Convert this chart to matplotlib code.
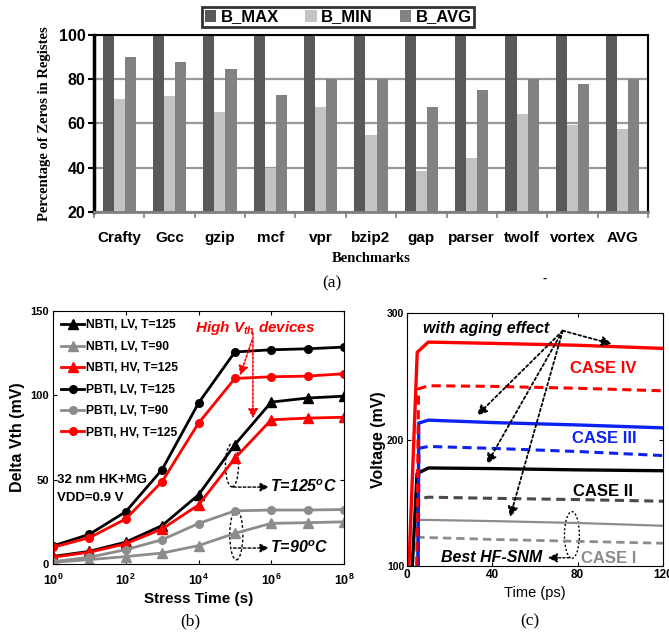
import numpy as np
import matplotlib
matplotlib.use("Agg")
import matplotlib.pyplot as plt
from matplotlib.patches import Ellipse

plt.rcParams['font.family'] = ['Liberation Sans', 'DejaVu Sans']
plt.rcParams['mathtext.fontset'] = 'custom'
plt.rcParams['mathtext.rm'] = 'Liberation Sans'
plt.rcParams['mathtext.bf'] = 'Liberation Sans:bold'
plt.rcParams['mathtext.it'] = 'Liberation Sans:italic:bold'

# ---- data (a) ----
benchmarks = ["Crafty", "Gcc", "gzip", "mcf", "vpr", "bzip2", "gap", "parser", "twolf", "vortex", "AVG"]
b_max = [100, 100, 100, 100, 100, 100, 100, 100, 100, 100, 100]
b_min = [71, 72.5, 65, 40, 67.5, 55, 38.5, 44.5, 64.5, 59.5, 57.5]
b_avg = [90, 88, 84.5, 73, 80, 80, 67.5, 75, 80, 78, 80]

# ---- data (b) ----
stress_time = [1e0, 1e1, 1e2, 1e3, 1e4, 1e5, 1e6, 1e7, 1e8]
nbti_lv_125 = [4.5, 7.5, 13, 22.8, 41, 70.8, 96, 98.4, 99.5]
nbti_lv_90 = [1, 2.6, 4.4, 6.5, 10.9, 18.2, 24.1, 24.5, 25]
nbti_hv_125 = [4, 7, 12, 20.8, 35, 62.7, 85.5, 86.5, 87]
pbti_lv_125 = [10.7, 17.6, 31, 56, 95.4, 125.7, 127, 127.6, 128.6]
pbti_lv_90 = [1.4, 4, 8.5, 14.4, 24, 31.5, 32, 32, 32.3]
pbti_hv_125 = [9.9, 15.6, 26.7, 48.9, 83.5, 110, 111, 111.4, 112.8]

# ---- data (c) ----
t_red = [0.9, 4.8, 10, 40, 80, 120]
v_red = [100, 269, 277, 276, 274.5, 272]
t_red_d = [4.6, 5.4, 10, 40, 80, 120]
v_red_d = [100, 240, 242.5, 242, 240.5, 238.5]
t_blue = [5.2, 5.5, 10, 40, 80, 120]
v_blue = [100, 213, 215.3, 213.4, 211.5, 209.2]
t_blue_d = [5.3, 5.6, 10, 40, 80, 120]
v_blue_d = [100, 193, 194.5, 193, 190.5, 187.3]
t_black = [2.5, 4.7, 10, 40, 80, 120]
v_black = [100, 173, 177.5, 177, 176, 175.3]
t_dgray_d = [4.8, 5.2, 10, 40, 80, 120]
v_dgray_d = [100, 153, 154.4, 153.5, 152.5, 151.2]
t_gray = [4.6, 4.8, 10, 40, 80, 120]
v_gray = [100, 136.4, 136.4, 135.5, 134, 131.8]
t_gray_d = [5.0, 5.3, 10, 40, 80, 120]
v_gray_d = [100, 122.7, 122.5, 121, 119.5, 118]

fig = plt.figure(figsize=(6.69, 6.35), dpi=100)

# ================= (a) =================
axa = fig.add_axes([94/669, 1-212/635, 554/669, 177/635])
x = np.arange(len(benchmarks))
w = 0.22
axa.bar(x - w, b_max, w, color='#595959', label='B_MAX', zorder=2)
axa.bar(x, b_min, w, color='#c3c3c3', label='B_MIN', zorder=2)
axa.bar(x + w, b_avg, w, color='#828282', label='B_AVG', zorder=2)
axa.set_ylim(20, 100)
axa.set_xlim(-0.5, len(benchmarks) - 0.5)
axa.set_yticks([20, 40, 60, 80, 100])
axa.set_yticklabels(['20', '40', '60', '80', '100'], fontsize=11.5, fontweight='bold')
axa.yaxis.grid(True, color='#9a9a9a', linewidth=1.6, zorder=0)
axa.set_axisbelow(True)
axa.set_xticks(x)
axa.set_xticklabels(benchmarks, fontsize=11, fontweight='bold')
axa.tick_params(axis='x', length=0, pad=14)
axa.set_xticks(np.arange(-0.5, len(benchmarks)), minor=True)
axa.tick_params(axis='x', which='minor', length=4, color='#808080', width=1.2, direction='out')
axa.tick_params(axis='y', length=4, width=1.5, direction='out', pad=2)
axa.spines['left'].set_linewidth(2.5)
axa.spines['bottom'].set_linewidth(2)
axa.spines['bottom'].set_color('#808080')
axa.spines['top'].set_linewidth(1.5)
axa.spines['right'].set_linewidth(1.5)
axa.set_ylabel('Percentage of Zeros in Registes', family='Liberation Serif',
               fontweight='bold', fontsize=10.5, labelpad=6)
axa.set_xlabel('Benchmarks', family='Liberation Serif', fontweight='bold', fontsize=10.5, labelpad=5)
leg = fig.legend(loc='center', bbox_to_anchor=(338/669, 1-17/635), ncol=3,
                 fancybox=False, edgecolor='black', handlelength=0.7, handleheight=0.7,
                 handletextpad=0.25, columnspacing=1.6, borderpad=0.15, borderaxespad=0,
                 prop={'weight': 'bold', 'size': 12})
leg.get_frame().set_linewidth(2)
fig.text(332/669, 1-283/635, '(a)', family='Liberation Serif', fontsize=12.5, ha='center', va='center')
fig.text(545/669, 1-279/635, '-', fontsize=9, fontweight='bold', ha='center', va='center')

# ================= (b) =================
axb = fig.add_axes([53/669, 1-564/635, 291/669, 253/635])
lw = 2.0
ms = 5.5
axb.plot(stress_time, nbti_lv_125, color='black', marker='^', lw=lw, ms=ms + 1, label='NBTI, LV, T=125')
axb.plot(stress_time, nbti_lv_90, color='#8c8c8c', marker='^', lw=lw, ms=ms + 1, label='NBTI, LV, T=90')
axb.plot(stress_time, nbti_hv_125, color='#ff0000', marker='^', lw=lw, ms=ms + 1, label='NBTI, HV, T=125')
axb.plot(stress_time, pbti_lv_125, color='black', marker='o', lw=lw, ms=ms, label='PBTI, LV, T=125')
axb.plot(stress_time, pbti_lv_90, color='#8c8c8c', marker='o', lw=lw, ms=ms, label='PBTI, LV, T=90')
axb.plot(stress_time, pbti_hv_125, color='#ff0000', marker='o', lw=lw, ms=ms, label='PBTI, HV, T=125')
axb.set_xscale('log')
axb.set_xlim(1, 1e8)
axb.set_ylim(0, 150)
axb.set_yticks([0, 50, 100, 150])
axb.set_yticklabels(['0', '50', '100', '150'], fontsize=8, fontweight='bold')
axb.set_xticks([1e0, 1e2, 1e4, 1e6, 1e8])
axb.set_xticklabels([r'$\mathbf{10^{%d}}$' % k for k in [0, 2, 4, 6, 8]], fontsize=9)
axb.xaxis.set_minor_locator(matplotlib.ticker.NullLocator())
axb.tick_params(direction='in', top=True, right=True, length=3, pad=3)
axb.tick_params(axis='x', pad=6)
axb.set_xlabel('Stress Time (s)', fontsize=11, fontweight='bold', labelpad=3)
axb.set_ylabel('Delta Vth (mV)', fontsize=11.5, fontweight='bold', labelpad=4)
axb.legend(loc='upper left', bbox_to_anchor=(0.0, 1.0), frameon=False, handlelength=1.9,
           handletextpad=0.1, labelspacing=0.78, borderaxespad=0.3,
           prop={'weight': 'bold', 'size': 8.7})
axb.text(0.488, 0.933, r'High $V_{th}$ devices', transform=axb.transAxes, color='#ff0000',
         fontsize=11, fontweight='bold', style='italic', va='center')
axb.text(0.015, 0.332, '32 nm HK+MG', transform=axb.transAxes, fontsize=9.5, fontweight='bold', va='center')
axb.text(0.015, 0.261, 'VDD=0.9 V', transform=axb.transAxes, fontsize=9.5, fontweight='bold', va='center')
axb.text(0.745, 0.304, r'T=125$^{o}$C', transform=axb.transAxes, fontsize=11.5,
         fontweight='bold', style='italic', va='center')
axb.text(0.745, 0.063, r'T=90$^{o}$C', transform=axb.transAxes, fontsize=11.5,
         fontweight='bold', style='italic', va='center')
axb.add_patch(Ellipse((0.615, 0.39), 0.045, 0.17, transform=axb.transAxes, fill=False,
                      ls=(0, (2, 1.5)), lw=1, color='black'))
axb.add_patch(Ellipse((0.63, 0.115), 0.045, 0.197, transform=axb.transAxes, fill=False,
                      ls=(0, (2, 1.5)), lw=1, color='black'))
for y0 in [0.304, 0.063]:
    axb.annotate('', xy=(0.742, y0), xytext=(0.62, y0), xycoords='axes fraction',
                 arrowprops=dict(arrowstyle='-|>', ls=(0, (2, 1.5)), lw=1, color='black',
                                 mutation_scale=13, shrinkA=0, shrinkB=0))
axb.annotate('', xy=(0.687, 0.575), xytext=(0.687, 0.913), xycoords='axes fraction',
             arrowprops=dict(arrowstyle='-|>', ls=(0, (1.2, 1.2)), lw=1.2, color='#ff0000',
                             mutation_scale=14, shrinkA=0, shrinkB=0))
axb.annotate('', xy=(0.643, 0.745), xytext=(0.684, 0.885), xycoords='axes fraction',
             arrowprops=dict(arrowstyle='-|>', ls=(0, (1.2, 1.2)), lw=1.2, color='#ff0000',
                             mutation_scale=14, shrinkA=0, shrinkB=0))
fig.text(190/669, 1-621/635, '(b)', family='Liberation Serif', fontsize=12.5, ha='center', va='center')

# ================= (c) =================
axc = fig.add_axes([407/669, 1-566/635, 256/669, 253/635])
dash = (0, (3, 1.8))
axc.plot(t_gray_d, v_gray_d, color='#8c8c8c', lw=2, ls=dash)
axc.plot(t_gray, v_gray, color='#8c8c8c', lw=1.6)
axc.plot(t_dgray_d, v_dgray_d, color='#4a4a4a', lw=2.2, ls=dash)
axc.plot(t_black, v_black, color='black', lw=2.4)
axc.plot(t_blue_d, v_blue_d, color='#0b22f0', lw=2.2, ls=dash)
axc.plot(t_blue, v_blue, color='#0b22f0', lw=2.4)
axc.plot(t_red_d, v_red_d, color='#ff0000', lw=2.2, ls=dash)
axc.plot(t_red, v_red, color='#ff0000', lw=2.4)
axc.set_xlim(0, 120)
axc.set_ylim(100, 300)
axc.set_xticks([0, 40, 80, 120])
axc.set_xticklabels(['0', '40', '80', '120'], fontsize=8.5, fontweight='bold')
axc.set_yticks([100, 200, 300])
axc.set_yticklabels(['100', '200', '300'], fontsize=7.5, fontweight='bold')
axc.tick_params(direction='in', top=True, right=True, length=3, pad=2)
axc.set_xlabel('Time (ps)', fontsize=10.5, labelpad=4)
axc.set_ylabel('Voltage (mV)', fontsize=11.5, fontweight='bold', labelpad=1)
axc.text(7.5, 288, 'with aging effect', fontsize=11.5, fontweight='bold', style='italic', va='center')
for tx, vy in [(96, 275.5), (32.8, 219), (37.4, 180.6), (48.3, 138.7)]:
    axc.annotate('', xy=(tx, vy), xytext=(73, 286),
                 arrowprops=dict(arrowstyle='-|>', ls=(0, (1.5, 1.5)), lw=1.3, color='black',
                                 mutation_scale=15, shrinkA=0, shrinkB=0))
axc.text(92, 256.5, 'CASE IV', color='#ff0000', fontsize=12, fontweight='bold', ha='center', va='center')
axc.text(92.5, 201, 'CASE III', color='#0b22f0', fontsize=12, fontweight='bold', ha='center', va='center')
axc.text(92, 159, 'CASE II', color='black', fontsize=12, fontweight='bold', ha='center', va='center')
axc.text(94.5, 106, 'CASE I', color='#8c8c8c', fontsize=12, fontweight='bold', ha='center', va='center')
axc.text(39.5, 106.5, 'Best HF-SNM', color='black', fontsize=11.5, fontweight='bold', style='italic',
         ha='center', va='center')
axc.add_patch(Ellipse((77.3, 124.5), 7, 37, fill=False, ls=(0, (1.5, 1.5)), lw=1, color='black'))
axc.annotate('', xy=(66, 106.5), xytext=(76, 106.5),
             arrowprops=dict(arrowstyle='-|>', ls=(0, (1.5, 1.5)), lw=1, color='black',
                             mutation_scale=14, shrinkA=0, shrinkB=0))
fig.text(530/669, 1-621/635, '(c)', family='Liberation Serif', fontsize=12.5, ha='center', va='center')

fig.savefig('out.png', dpi=100)
